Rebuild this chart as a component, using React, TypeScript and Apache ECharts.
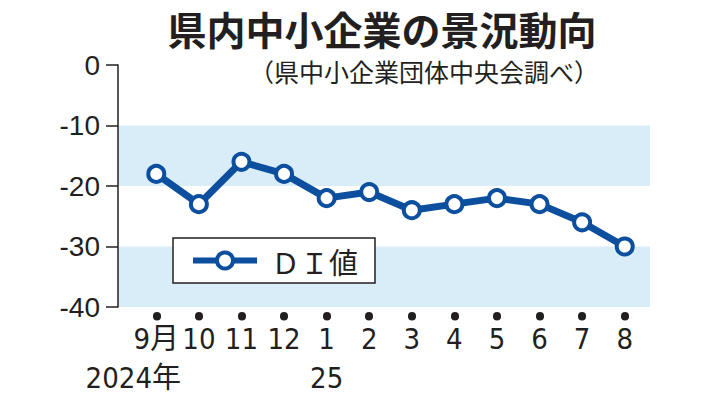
import React, { useEffect, useRef } from "react";
import * as echarts from "echarts";

const TITLE = "県内中小企業の景況動向";
const SUBTITLE = "（県中小企業団体中央会調べ）";
const SERIES_NAME = "ＤＩ値";
const MONTHS = ["9月", "10", "11", "12", "1", "2", "3", "4", "5", "6", "7", "8"];
const YEARS = ["2024年", "", "", "", "25", "", "", "", "", "", "", ""];
const DI_VALUES = [-18, -23, -16, -18, -22, -21, -24, -23, -22, -23, -26, -30];
const Y_MIN = -40;
const Y_MAX = 0;
const Y_STEP = 10;

const BLUE = "#0b4f9e";
const BAND = "#d9edf9";
const INK = "#231f20";
const JP = "'Noto Sans CJK JP', sans-serif";
const NARROW =
  "'Liberation Sans Narrow', 'Arial Narrow', 'DejaVu Sans Condensed', 'Roboto Condensed', 'Noto Sans CJK JP', sans-serif";

export default function App() {
  const ref = useRef<HTMLDivElement>(null);
  useEffect(() => {
    if (!ref.current) return;
    const chart = echarts.init(ref.current, undefined, { renderer: "svg" });
    chart.setOption({
      animation: false,
      backgroundColor: "#ffffff",
      title: [
        {
          text: TITLE,
          left: 382,
          top: 6,
          textAlign: "center",
          padding: 0,
          textStyle: { fontFamily: JP, fontSize: 39, lineHeight: 44, fontWeight: "bold", color: INK },
        },
        {
          text: SUBTITLE,
          right: 112,
          top: 57,
          padding: 0,
          textStyle: { fontFamily: JP, fontSize: 25, lineHeight: 28, fontWeight: "normal", color: INK },
        },
      ],
      legend: {
        data: [SERIES_NAME],
        left: 173,
        top: 238,
        orient: "horizontal",
        backgroundColor: "#ffffff",
        borderColor: INK,
        borderWidth: 1.5,
        padding: [8, 17, 8, 17],
        itemWidth: 64,
        itemHeight: 20,
        lineStyle: { width: 6, color: BLUE },
        itemStyle: { borderWidth: 4, borderColor: BLUE, color: "#ffffff" },
        textStyle: {
          fontFamily: JP,
          fontSize: 29,
          color: INK,
          padding: [0, 0, 0, 9],
        },
      },
      grid: [
        { left: 118, right: 61, top: 65, bottom: 93 },
        { left: 135, right: 65, top: 65, bottom: 93 },
      ],
      xAxis: [
        { type: "value", gridIndex: 0, min: 0, max: 1, show: false },
        {
          type: "category",
          gridIndex: 1,
          position: "bottom",
          data: MONTHS,
          boundaryGap: true,
          offset: 9,
          axisLine: { show: false, onZero: false },
          axisTick: {
            show: true,
            alignWithLabel: true,
            length: 0.5,
            lineStyle: { color: INK, width: 8, cap: "round" },
          },
          axisLabel: {
            interval: 0,
            margin: 8,
            fontFamily: NARROW,
            fontSize: 29,
            color: INK,
          },
        },
        {
          type: "category",
          gridIndex: 1,
          data: YEARS,
          boundaryGap: true,
          position: "bottom",
          offset: 48,
          axisLine: { show: false, onZero: false },
          axisTick: { show: false },
          axisLabel: {
            interval: 0,
            margin: 8,
            color: INK,
            formatter: (v: string, i: number) => (i === 0 ? `{y|${v}}` : v),
            fontFamily: NARROW,
            fontSize: 29,
            rich: {
              y: { fontFamily: NARROW, fontSize: 29, color: INK, padding: [0, 46, 0, 0] },
            },
          },
        },
      ],
      yAxis: [
        {
          type: "value",
          gridIndex: 0,
          min: Y_MIN,
          max: Y_MAX,
          interval: Y_STEP,
          axisLine: { show: true, onZero: false, lineStyle: { color: INK, width: 1.5 } },
          axisTick: { show: true, length: 12, lineStyle: { color: INK, width: 1.5 } },
          axisLabel: {
            margin: 18,
            fontFamily: "'Liberation Sans', Arial, sans-serif",
            fontSize: 28,
            color: INK,
          },
          splitLine: { show: false },
          splitArea: { show: true, areaStyle: { color: [BAND, "rgba(0,0,0,0)"] } },
        },
        { type: "value", gridIndex: 1, min: Y_MIN, max: Y_MAX, interval: Y_STEP, show: false },
      ],
      series: [
        {
          name: SERIES_NAME,
          type: "line",
          xAxisIndex: 1,
          yAxisIndex: 1,
          data: DI_VALUES,
          symbol: "circle",
          symbolSize: 16,
          lineStyle: { color: BLUE, width: 7 },
          itemStyle: { color: "#ffffff", borderColor: BLUE, borderWidth: 4 },
          z: 3,
        },
      ],
    });
    return () => chart.dispose();
  }, []);
  return (
    <div
      ref={ref}
      style={{ position: "absolute", left: 0, top: 0, width: 711, height: 400 }}
    />
  );
}
